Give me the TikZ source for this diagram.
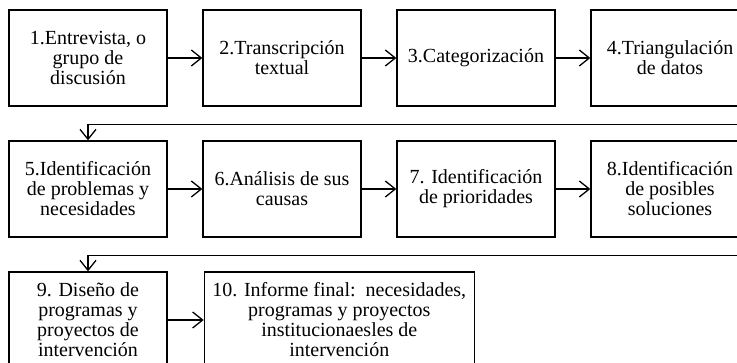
\documentclass[tikz,border=0pt]{standalone}
\usepackage{fontspec}
\setmainfont{Liberation Serif}
\usepackage{tikz}
\usetikzlibrary{positioning,arrows.meta}

\begin{document}
\begin{tikzpicture} [x=1pt, y=-1pt, node distance=194pt, line width=1.3pt,
                    >={Straight Barb[length=10pt,width=16pt]},
                    caja/.style={rectangle,draw,minimum width=158pt,minimum height=96pt,
                                 align=center,font=\fontsize{20}{20}\selectfont}]

\useasboundingbox (0,0) rectangle (737,363);
\clip (0,0) rectangle (737,363);

\node[caja] (1) at (88,58) {1.Entrevista, o\\grupo de\\discusión};
\node[caja] (2) [right of=1] {2.Transcripción\\textual};
\node[caja] (3) [right of=2] {3.Categorización};
\node[caja] (4) [right of=3] {4.Triangulación\\de datos};

\node[caja] (5) at (88,189) {5.Identificación\\de problemas y\\necesidades};
\node[caja] (6) [right of=5] {6.Análisis de sus\\causas};
\node[caja] (7) [right of=6] {7. Identificación\\de prioridades};
\node[caja] (8) [right of=7] {8.Identificación\\de posibles\\soluciones};

\node[caja] (9) at (88,320) {9. Diseño de\\programas y\\proyectos de\\intervención};
\node[caja, minimum width=270pt] (10) [right=36pt of 9] {10. Informe final:\ \ necesidades,\\programas y proyectos\\institucionaesles de\\intervención};

 \path[->]
    (1) edge (2)
    (2) edge (3)
    (3) edge (4)
    (5) edge (6)
    (6) edge (7)
    (7) edge (8)
    (9) edge (10);

% saltos de fila
\draw[->] (4.east) -- ++(12,0) |- ([yshift=16pt]5.north) -- (5.north);
\draw[->] (8.east) -- ++(12,0) |- ([yshift=16pt]9.north) -- (9.north);
\end{tikzpicture}
\end{document}
